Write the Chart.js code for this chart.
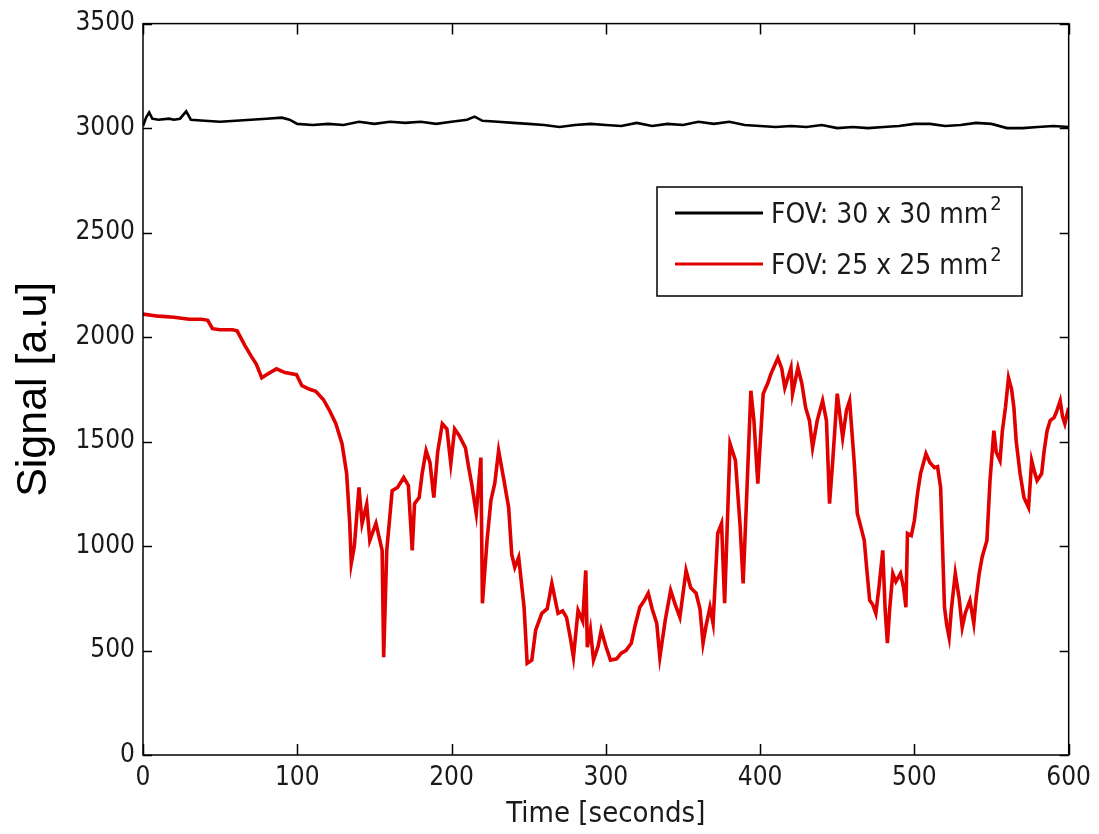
<!doctype html>
<html>
<head>
    <meta charset="utf-8" />
    <title>Signal</title>
    <script src="https://cdn.jsdelivr.net/npm/chart.js@4.4.0/dist/chart.umd.min.js"></script>
    <style>
        body { margin: 0; background: #fff; }
    </style>
</head>
<body>
    <canvas id="joonis" width="1099" height="834"></canvas>
    <script>
        // FOV 30 x 30 (black)
        const blackTime = [0, 2, 4, 6, 10, 17, 20, 24, 28, 31, 40, 50, 60, 70, 80, 90, 95, 100, 110, 120, 130, 140, 150, 160, 170, 180, 190, 200, 210, 215, 220, 230, 240, 250, 260, 270, 280, 290, 300, 310, 320, 330, 340, 350, 360, 370, 380, 390, 400, 410, 420, 430, 440, 450, 460, 470, 480, 490, 500, 510, 520, 530, 540, 550, 560, 570, 580, 590, 600];
        const blackSignal = [3010, 3050, 3075, 3045, 3040, 3045, 3040, 3045, 3080, 3040, 3035, 3030, 3035, 3040, 3045, 3050, 3040, 3020, 3015, 3020, 3015, 3030, 3020, 3030, 3025, 3030, 3020, 3030, 3040, 3055, 3035, 3030, 3025, 3020, 3015, 3005, 3015, 3020, 3015, 3010, 3025, 3010, 3020, 3015, 3030, 3020, 3030, 3015, 3010, 3005, 3010, 3005, 3015, 3000, 3005, 3000, 3005, 3010, 3020, 3020, 3010, 3015, 3025, 3020, 3000, 3000, 3005, 3010, 3005];

        // FOV 25 x 25 (red)
        const redTime = [0, 10, 20, 30, 38, 42, 45, 50, 58, 61, 66, 70, 73.5, 77, 80, 86.5, 92, 99.5, 103, 108, 112, 117, 121, 125, 129, 132, 134, 135, 137, 140, 142, 145, 147, 151, 155, 156, 158, 161.5, 165, 169, 172, 174.5, 176, 179, 181, 183.5, 186, 188.5, 191, 194, 197, 199.5, 202, 205, 209, 211, 213, 216, 219, 220, 223, 225.5, 228, 230.5, 234, 237, 239, 241, 243.5, 247, 249, 252, 254.5, 258.5, 262, 265, 269, 272, 274.5, 277, 279, 282, 285, 287, 288, 290, 292, 295, 297, 300, 303, 307, 310, 313, 316.5, 319, 322, 325, 327.5, 330, 333, 335, 338.5, 342, 345, 348, 352, 355, 358.5, 361, 363, 365, 367.5, 369.5, 372.5, 375, 377, 380.5, 384, 387, 389, 391, 394, 396, 398.5, 402, 405, 407, 411.5, 414, 416, 420, 421, 424.5, 427, 429.5, 432, 434, 437, 440.5, 443, 445, 447, 450, 453.5, 456, 458, 461, 463, 465, 467.5, 469, 471, 473, 475, 477, 479.5, 481, 482.5, 484, 486, 488, 491, 493, 494.5, 495.5, 498, 500, 502, 504, 507.5, 510, 513, 515, 517, 519.5, 521, 522.5, 524, 526.5, 529, 531, 533, 536, 538.5, 540, 542, 544, 547, 549, 551.5, 553, 555.5, 557, 559, 561, 563, 564.5, 566, 568.5, 571, 574, 576, 578, 579.5, 582.5, 584, 586, 588, 590.5, 592, 594.5, 596, 597.5, 600];
        const redSignal = [2110, 2100, 2095, 2085, 2085, 2080, 2040, 2035, 2035, 2030, 1960, 1910, 1870, 1805, 1820, 1848, 1830, 1820, 1767, 1750, 1740, 1700, 1647, 1585, 1490, 1347, 1108, 917, 1000, 1280, 1108, 1200, 1027, 1108, 979, 468, 979, 1265, 1280, 1328, 1290, 979, 1203, 1232, 1350, 1456, 1400, 1232, 1450, 1585, 1560, 1394, 1560, 1528, 1470, 1380, 1299, 1156, 1423, 726, 1027, 1218, 1300, 1456, 1313, 1184, 960, 898, 946, 707, 439, 454, 597, 678, 700, 821, 678, 690, 659, 560, 468, 692, 640, 883, 516, 600, 454, 520, 597, 520, 454, 460, 487, 500, 535, 620, 707, 740, 774, 700, 630, 468, 645, 788, 720, 659, 883, 800, 774, 700, 535, 620, 707, 630, 1060, 1108, 726, 1490, 1409, 1100, 821, 1184, 1743, 1600, 1299, 1729, 1780, 1824, 1900, 1850, 1757, 1853, 1729, 1853, 1780, 1662, 1600, 1471, 1600, 1695, 1600, 1203, 1400, 1729, 1518, 1650, 1695, 1400, 1156, 1100, 1027, 900, 740, 720, 678, 800, 979, 700, 535, 700, 869, 830, 869, 800, 707, 1060, 1050, 1122, 1250, 1347, 1442, 1400, 1375, 1380, 1280, 707, 620, 563, 700, 869, 750, 611, 680, 740, 630, 750, 869, 950, 1027, 1313, 1552, 1450, 1409, 1550, 1662, 1805, 1750, 1662, 1500, 1347, 1232, 1184, 1409, 1350, 1313, 1347, 1450, 1552, 1600, 1614, 1640, 1695, 1620, 1585, 1662];

        const seriesLabels = ['FOV: 30 x 30 mm', 'FOV: 25 x 25 mm'];
        const xTicks = [0, 100, 200, 300, 400, 500, 600];
        const yTicks = [0, 500, 1000, 1500, 2000, 2500, 3000, 3500];

        const tekst = '#1a1a1a';
        const kitsas = '"Liberation Sans Narrow", "DejaVu Sans Condensed", "Roboto Condensed", sans-serif';

        function punktid(xs, ys) {
            return xs.map((x, i) => ({ x: x, y: ys[i] }));
        }

        // MATLAB-like box, inward ticks and legend
        const kast = {
            id: 'kast',
            afterDatasetsDraw(chart) {
                const ctx = chart.ctx;
                const a = chart.chartArea;
                const sx = chart.scales.x, sy = chart.scales.y;
                ctx.save();
                ctx.strokeStyle = '#000';
                ctx.lineWidth = 1.5;
                ctx.strokeRect(a.left, a.top, a.right - a.left, a.bottom - a.top);
                ctx.beginPath();
                xTicks.forEach(v => {
                    const p = Math.round(sx.getPixelForValue(v)) + 0.5;
                    ctx.moveTo(p, a.bottom); ctx.lineTo(p, a.bottom - 11);
                    ctx.moveTo(p, a.top); ctx.lineTo(p, a.top + 11);
                });
                yTicks.forEach(v => {
                    const p = Math.round(sy.getPixelForValue(v)) + 0.5;
                    ctx.moveTo(a.left, p); ctx.lineTo(a.left + 9, p);
                    ctx.moveTo(a.right, p); ctx.lineTo(a.right - 9, p);
                });
                ctx.lineWidth = 1.5;
                ctx.stroke();

                // legend
                const lx = 657, ly = 187, lw = 365, lh = 109;
                ctx.fillStyle = '#fff';
                ctx.fillRect(lx, ly, lw, lh);
                ctx.lineWidth = 1.5;
                ctx.strokeStyle = '#000';
                ctx.strokeRect(lx, ly, lw, lh);
                chart.data.datasets.forEach((ds, i) => {
                    const yy = ly + 26 + i * 51;
                    ctx.strokeStyle = ds.borderColor;
                    ctx.lineWidth = 3;
                    ctx.beginPath();
                    ctx.moveTo(lx + 18, yy);
                    ctx.lineTo(lx + 106, yy);
                    ctx.stroke();
                    ctx.fillStyle = tekst;
                    ctx.textBaseline = 'middle';
                    ctx.textAlign = 'left';
                    ctx.font = '28px ' + kitsas;
                    const t = ds.label;
                    ctx.fillText(t, lx + 114, yy + 3);
                    const w = ctx.measureText(t).width;
                    ctx.font = '20px ' + kitsas;
                    ctx.fillText('2', lx + 116 + w, yy - 8);
                });
                ctx.restore();
            }
        };

        new Chart(document.getElementById('joonis'), {
            type: 'line',
            data: {
                datasets: [
                    {
                        label: seriesLabels[0],
                        data: punktid(blackTime, blackSignal),
                        borderColor: '#000000',
                        borderWidth: 2.6,
                        pointRadius: 0,
                        tension: 0
                    },
                    {
                        label: seriesLabels[1],
                        data: punktid(redTime, redSignal),
                        borderColor: '#e00000',
                        borderWidth: 3.6,
                        pointRadius: 0,
                        tension: 0
                    }
                ]
            },
            options: {
                responsive: false,
                devicePixelRatio: 1,
                animation: false,
                layout: { padding: { top: 22, right: 24, left: 0, bottom: 0 } },
                plugins: {
                    legend: { display: false },
                    tooltip: { enabled: false }
                },
                scales: {
                    x: {
                        type: 'linear',
                        min: 0,
                        max: 600,
                        afterBuildTicks: s => { s.ticks = xTicks.map(v => ({ value: v })); },
                        grid: { display: false, drawTicks: false },
                        border: { display: false },
                        ticks: { color: tekst, padding: 8, font: { family: kitsas, size: 26 }, callback: v => String(v) },
                        title: {
                            display: true,
                            text: 'Time [seconds]',
                            color: tekst,
                            font: { family: kitsas, size: 29 },
                            padding: { top: 0, bottom: 2 }
                        },
                        afterFit: s => { s.height = 79; }
                    },
                    y: {
                        min: 0,
                        max: 3500,
                        afterBuildTicks: s => { s.ticks = yTicks.map(v => ({ value: v })); },
                        grid: { display: false, drawTicks: false },
                        border: { display: false },
                        ticks: { color: tekst, padding: 8, font: { family: kitsas, size: 26 }, callback: v => String(v) },
                        title: {
                            display: true,
                            text: 'Signal [a.u]',
                            color: '#000',
                            font: { family: '"Liberation Sans", Arial, sans-serif', size: 43 },
                            padding: { top: 8, bottom: 0 }
                        },
                        afterFit: s => { s.width = 143; }
                    }
                }
            },
            plugins: [kast]
        });
    </script>
</body>
</html>
